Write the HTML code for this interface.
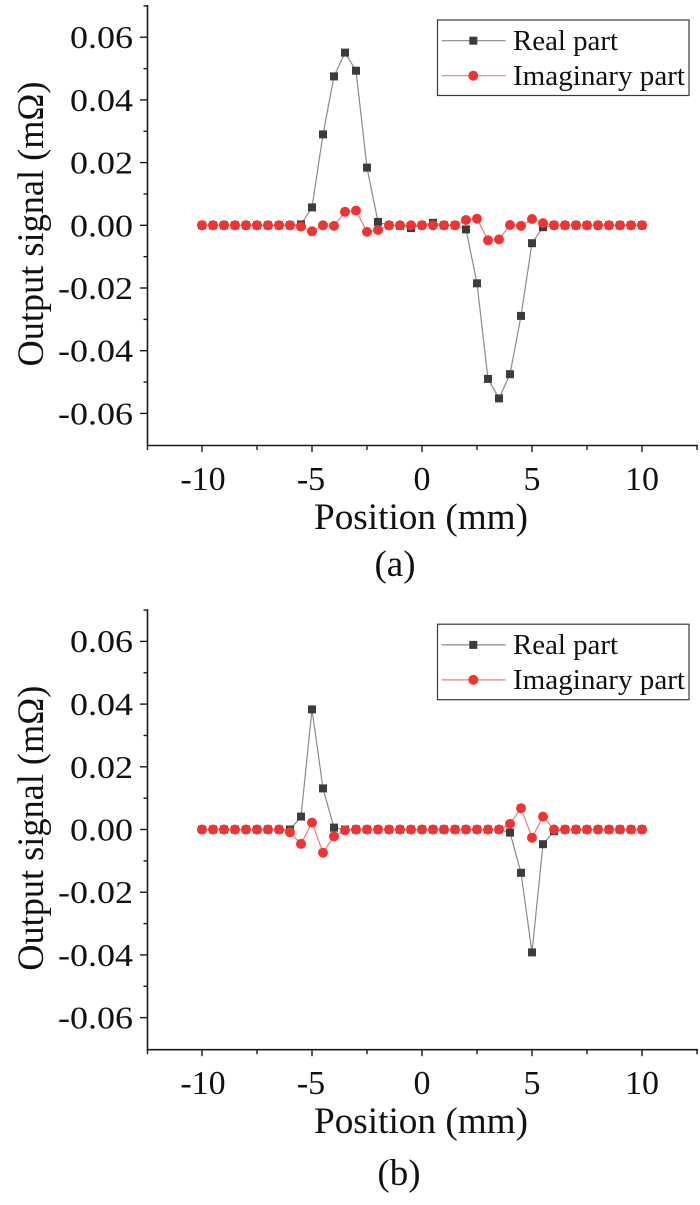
<!DOCTYPE html>
<html>
<head>
<meta charset="utf-8">
<style>
  html,body{margin:0;padding:0;background:#fff;}
  svg{display:block;}
  text{font-family:"Liberation Serif","Times New Roman",serif;fill:#111;}
</style>
</head>
<body>
<svg width="700" height="1205" viewBox="0 0 700 1205" xmlns="http://www.w3.org/2000/svg">
  <defs>
    <marker id="sq" markerUnits="userSpaceOnUse" markerWidth="10" markerHeight="10" refX="5" refY="5" overflow="visible">
      <rect x="1" y="1" width="8" height="8" fill="#3c3c3c"/>
    </marker>
    <marker id="ci" markerUnits="userSpaceOnUse" markerWidth="12" markerHeight="12" refX="6" refY="6" overflow="visible">
      <circle cx="6" cy="6" r="5" fill="#ef3434"/>
    </marker>
    <g id="frame">
      <!-- axes -->
      <line x1="147.5" y1="5" x2="147.5" y2="446" stroke="#1a1a1a" stroke-width="1.6"/>
      <line x1="146.7" y1="445.5" x2="698" y2="445.5" stroke="#1a1a1a" stroke-width="1.6"/>
      <!-- y major ticks -->
      <g stroke="#1a1a1a" stroke-width="1.4">
        <line x1="140" y1="37.2" x2="147.5" y2="37.2"/>
        <line x1="140" y1="99.9" x2="147.5" y2="99.9"/>
        <line x1="140" y1="162.6" x2="147.5" y2="162.6"/>
        <line x1="140" y1="225.3" x2="147.5" y2="225.3"/>
        <line x1="140" y1="288" x2="147.5" y2="288"/>
        <line x1="140" y1="350.7" x2="147.5" y2="350.7"/>
        <line x1="140" y1="413.4" x2="147.5" y2="413.4"/>
        <!-- y minor -->
        <line x1="143.5" y1="5.9" x2="147.5" y2="5.9"/>
        <line x1="143.5" y1="68.6" x2="147.5" y2="68.6"/>
        <line x1="143.5" y1="131.3" x2="147.5" y2="131.3"/>
        <line x1="143.5" y1="194" x2="147.5" y2="194"/>
        <line x1="143.5" y1="256.7" x2="147.5" y2="256.7"/>
        <line x1="143.5" y1="319.4" x2="147.5" y2="319.4"/>
        <line x1="143.5" y1="382.1" x2="147.5" y2="382.1"/>
        <!-- x major ticks -->
        <line x1="202" y1="445.5" x2="202" y2="452"/>
        <line x1="312" y1="445.5" x2="312" y2="452"/>
        <line x1="422" y1="445.5" x2="422" y2="452"/>
        <line x1="532" y1="445.5" x2="532" y2="452"/>
        <line x1="642" y1="445.5" x2="642" y2="452"/>
        <!-- x minor -->
        <line x1="147.5" y1="445.5" x2="147.5" y2="450"/>
        <line x1="257" y1="445.5" x2="257" y2="450"/>
        <line x1="367" y1="445.5" x2="367" y2="450"/>
        <line x1="477" y1="445.5" x2="477" y2="450"/>
        <line x1="587" y1="445.5" x2="587" y2="450"/>
        <line x1="697" y1="445.5" x2="697" y2="450"/>
      </g>
      <!-- y tick labels -->
      <g font-size="32" text-anchor="end">
        <text x="133" y="48" textLength="63" lengthAdjust="spacingAndGlyphs">0.06</text>
        <text x="133" y="110.9" textLength="63" lengthAdjust="spacingAndGlyphs">0.04</text>
        <text x="133" y="173.6" textLength="63" lengthAdjust="spacingAndGlyphs">0.02</text>
        <text x="133" y="236.3" textLength="63" lengthAdjust="spacingAndGlyphs">0.00</text>
        <text x="133" y="299" textLength="75" lengthAdjust="spacingAndGlyphs">-0.02</text>
        <text x="133" y="361.7" textLength="75" lengthAdjust="spacingAndGlyphs">-0.04</text>
        <text x="133" y="424.4" textLength="75" lengthAdjust="spacingAndGlyphs">-0.06</text>
      </g>
      <!-- x tick labels -->
      <g font-size="34" text-anchor="middle">
        <text x="203" y="490">-10</text>
        <text x="311" y="490">-5</text>
        <text x="422" y="490">0</text>
        <text x="532" y="490">5</text>
        <text x="642" y="490">10</text>
      </g>
      <!-- axis titles -->
      <text x="421" y="529" font-size="37" text-anchor="middle" textLength="214" lengthAdjust="spacingAndGlyphs">Position (mm)</text>
      <text transform="translate(43,224) rotate(-90)" x="0" y="0" font-size="37" text-anchor="middle" textLength="285" lengthAdjust="spacingAndGlyphs">Output signal (mΩ)</text>
      <!-- legend -->
      <rect x="437.5" y="20" width="251.5" height="75.5" fill="#fff" stroke="#3a3a3a" stroke-width="1.2"/>
      <polyline points="441.7,40.7 473.3,40.7 505.7,40.7" fill="none" stroke="#8a8a8a" stroke-width="1.2" marker-mid="url(#sq)"/>
      <polyline points="441.7,75.7 473.3,75.7 505.7,75.7" fill="none" stroke="#f07a7a" stroke-width="1.2" marker-mid="url(#ci)"/>
      <text x="513" y="50" font-size="28" textLength="105" lengthAdjust="spacingAndGlyphs">Real part</text>
      <text x="513" y="85" font-size="28" textLength="172" lengthAdjust="spacingAndGlyphs">Imaginary part</text>
    </g>
  </defs>

  <!-- ============ (a) ============ -->
  <use href="#frame"/>
  <polyline fill="none" stroke="#8a8a8a" stroke-width="1.2"
    marker-start="url(#sq)" marker-mid="url(#sq)" marker-end="url(#sq)"
    points="202,225.3 213,225.3 224,225.3 235,225.3 246,225.3 257,225.3 268,225.3 279,225.3 290,225.3 301,224.4 312,207.4 323,134.4 334,76.4 345,52.6 356,70.7 367,167.6 378,221.9 389,225.3 400,225.8 411,228.1 422,225.3 433,222.8 444,225.3 455,225.3 466,229.4 477,283.3 488,378.9 499,398.4 510,374.2 521,315.9 532,243.2 543,227.2 554,225.3 565,225.3 576,225.3 587,225.3 598,225.3 609,225.3 620,225.3 631,225.3 642,225.3"/>
  <polyline fill="none" stroke="#f07a7a" stroke-width="1.2"
    marker-start="url(#ci)" marker-mid="url(#ci)" marker-end="url(#ci)"
    points="202,225.3 213,225.3 224,225.3 235,225.3 246,225.3 257,225.3 268,225.3 279,225.3 290,225.3 301,226.6 312,231.3 323,225.3 334,225.9 345,211.8 356,210.6 367,231.9 378,230.0 389,225.3 400,225.3 411,225.3 422,225.3 433,225.3 444,225.3 455,225.3 466,220.0 477,218.7 488,240.3 499,239.4 510,225.0 521,225.9 532,219.0 543,223.1 554,225.3 565,225.3 576,225.3 587,225.3 598,225.3 609,225.3 620,225.3 631,225.3 642,225.3"/>
  <text x="395" y="576" font-size="37" text-anchor="middle">(a)</text>

  <!-- ============ (b) ============ -->
  <use href="#frame" transform="translate(0,604.2)"/>
  <polyline fill="none" stroke="#8a8a8a" stroke-width="1.2"
    marker-start="url(#sq)" marker-mid="url(#sq)" marker-end="url(#sq)"
    points="202,829.5 213,829.5 224,829.5 235,829.5 246,829.5 257,829.5 268,829.5 279,829.5 290,829.5 301,816.6 312,709.4 323,788.4 334,827.6 345,829.5 356,829.5 367,829.5 378,829.5 389,829.5 400,829.5 411,829.5 422,829.5 433,829.5 444,829.5 455,829.5 466,829.5 477,829.5 488,829.5 499,829.5 510,832.6 521,872.8 532,952.4 543,844.2 554,831.1 565,829.5 576,829.5 587,829.5 598,829.5 609,829.5 620,829.5 631,829.5 642,829.5"/>
  <polyline fill="none" stroke="#f07a7a" stroke-width="1.2"
    marker-start="url(#ci)" marker-mid="url(#ci)" marker-end="url(#ci)"
    points="202,829.5 213,829.5 224,829.5 235,829.5 246,829.5 257,829.5 268,829.5 279,829.5 290,832.3 301,843.9 312,822.6 323,852.7 334,836.4 345,830.4 356,829.5 367,829.5 378,829.5 389,829.5 400,829.5 411,829.5 422,829.5 433,829.5 444,829.5 455,829.5 466,829.5 477,829.5 488,829.5 499,829.5 510,823.9 521,808.2 532,837.7 543,816.6 554,829.5 565,829.5 576,829.5 587,829.5 598,829.5 609,829.5 620,829.5 631,829.5 642,829.5"/>
  <text x="399" y="1185" font-size="37" text-anchor="middle">(b)</text>
</svg>
</body>
</html>
